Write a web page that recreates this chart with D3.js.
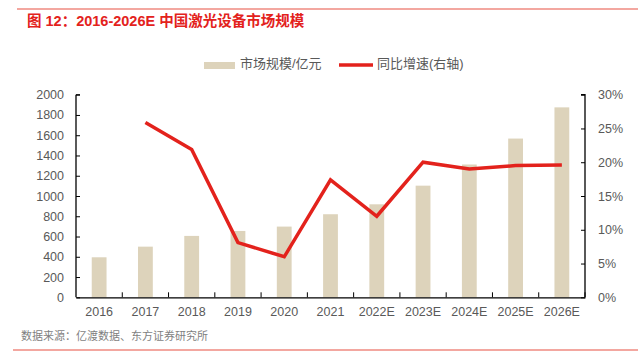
<!DOCTYPE html>
<html>
<head>
<meta charset="utf-8">
<script src="https://cdn.jsdelivr.net/npm/d3@7"></script>
<style>
body { margin: 0; background: #fff; }
svg { display: block; font-family: "Liberation Sans", Arial, "Noto Sans CJK SC", sans-serif; }
</style>
</head>
<body>
<figure style="margin:0"></figure>
<script>
const years = ["2016","2017","2018","2019","2020","2021","2022E","2023E","2024E","2025E","2026E"]
const marketSize = [395, 500, 606, 655, 698, 820, 918, 1102, 1311, 1567, 1875]
const growth = [null, 25.9, 21.9, 8.1, 6.0, 17.4, 12.0, 20.0, 19.0, 19.5, 19.6]
const leftTicks = d3.range(0, 2000 + 1, 200)
const rightTicks = d3.range(0, 30 + 1, 5)

const svg = d3.select("figure").append("svg").attr("width", 638).attr("height", 364),
    margin = {top: 94.7, bottom: 66.7, left: 76, right: 53},
    width = 638 - margin.left - margin.right,
    height = 364 - margin.top - margin.bottom,
    chart = svg.append("g").attr("transform", `translate(${margin.left},${margin.top})`),
    x = d3.scaleBand().domain(years).range([0, width]).paddingInner(0.68).paddingOuter(0.34),
    xb = d3.scaleBand().domain(years).range([0, width]),
    y = d3.scaleLinear().domain([0, 2000]).range([height, 0]),
    y2 = d3.scaleLinear().domain([0, 30]).range([height, 0]),
    red = "#e3221c", grey = "#595959"

// frame lines
svg.append("line").attr("x1", 17).attr("x2", 638).attr("y1", 9).attr("y2", 9).attr("stroke", "#ef8a80").attr("stroke-width", 1.5)
svg.append("line").attr("x1", 13).attr("x2", 638).attr("y1", 350).attr("y2", 350).attr("stroke", "#ef8a80").attr("stroke-width", 1.5)

svg.append("text").text("图 12：2016-2026E 中国激光设备市场规模")
    .attr("x", 27).attr("y", 26).attr("fill", red)
    .style("font-size", "14.5px").style("font-weight", "bold")

// bars
chart.selectAll("rect.bar").data(marketSize).enter()
    .append("rect").classed("bar", true)
    .attr("x", (d, i) => x(years[i]))
    .attr("y", d => y(d))
    .attr("width", x.bandwidth())
    .attr("height", d => height - y(d))
    .attr("fill", "#ddd3bb")

// growth line
const line = d3.line().defined(d => d != null)
    .x((d, i) => xb(years[i]) + xb.bandwidth() / 2)
    .y(d => y2(d))
chart.append("path").datum(growth).attr("d", line)
    .attr("fill", "none").attr("stroke", red).attr("stroke-width", 3.5).attr("stroke-linejoin", "miter")

// axes
const left = chart.append("g").call(d3.axisLeft(y).tickValues(leftTicks).tickFormat(d3.format("d")).tickSizeInner(-4).tickSizeOuter(-4).tickPadding(12))
const right = chart.append("g").attr("transform", `translate(${width},0)`)
    .call(d3.axisRight(y2).tickValues(rightTicks).tickFormat(d => d + "%").tickSizeInner(-4).tickSizeOuter(-4).tickPadding(13))
const bottom = chart.append("g").attr("transform", `translate(0,${height})`)
    .call(d3.axisBottom(xb).tickSize(0).tickPadding(10))
bottom.selectAll(".tick").append("line")
    .attr("x1", xb.bandwidth() / 2).attr("x2", xb.bandwidth() / 2)
    .attr("y1", 0).attr("y2", -5).attr("stroke", "#000")

for (const g of [left, right, bottom]) {
    g.selectAll("text").attr("fill", grey).style("font-size", "12.5px").style("font-family", "inherit")
    g.selectAll(".domain").attr("stroke", "#000").attr("stroke-width", 1.3)
    g.selectAll(".tick line").attr("stroke", "#000")
}
left.select(".domain").attr("d", `M0,0V${height}`)
right.select(".domain").attr("d", `M-4,0H0V${height}`)
left.append("line").attr("x1", 0).attr("x2", 4).attr("y1", 0).attr("y2", 0).attr("stroke", "#000")

// legend
const legend = svg.append("g").attr("transform", "translate(204,65)")
legend.append("rect").attr("x", 0).attr("y", -3).attr("width", 31).attr("height", 7).attr("fill", "#ddd3bb")
legend.append("text").text("市场规模/亿元").attr("x", 36).attr("y", 0).attr("dominant-baseline", "middle")
    .attr("fill", grey).style("font-size", "13px")
legend.append("line").attr("x1", 135).attr("x2", 169).attr("y1", 0).attr("y2", 0).attr("stroke", red).attr("stroke-width", 3.5)
legend.append("text").text("同比增速(右轴)").attr("x", 173).attr("y", 0).attr("dominant-baseline", "middle")
    .attr("fill", grey).style("font-size", "13px")

svg.append("text").text("数据来源：亿渡数据、东方证券研究所")
    .attr("x", 21).attr("y", 340).attr("fill", "#7f7f7f").style("font-size", "11px")
</script>
</body>
</html>
